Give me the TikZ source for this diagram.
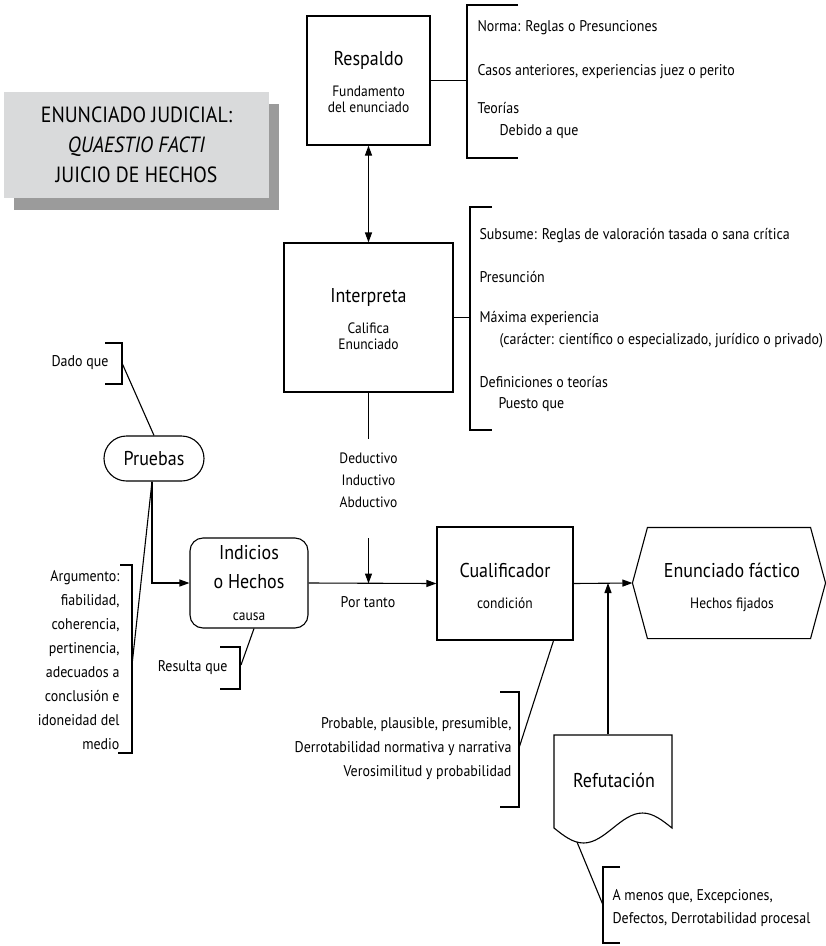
\documentclass[tikz,border=0pt]{standalone}
\usepackage{fontspec}
\setmainfont[FakeStretch=0.9]{PT Sans}
\usetikzlibrary{arrows.meta,shadows}
\definecolor{titlegray}{HTML}{D9DADB}
\definecolor{shadegray}{HTML}{9B9B9B}
\begin{document}
\begin{tikzpicture}[x=1pt,y=-1pt,
  line width=1.1pt,
  arr/.style={-{Triangle[length=10pt,width=7pt]}},
  darr/.style={{Triangle[length=10pt,width=7pt]}-{Triangle[length=10pt,width=7pt]}},
  box/.style={draw, rectangle, inner sep=0pt},
  big/.style={inner sep=0pt, font=\fontsize{20}{24}\selectfont},
  med/.style={inner sep=0pt, font=\fontsize{15}{16}\selectfont},
  sm/.style={inner sep=0pt, font=\fontsize{15.5}{17}\selectfont},
  note/.style={sm, anchor=west}
]
\useasboundingbox (0,0) rectangle (826,946);

% heading panel with its shadow
\node[fill=titlegray, minimum width=265pt, minimum height=106pt, inner sep=0pt,
      drop shadow={shadow xshift=10pt, shadow yshift=-12pt, fill=shadegray, opacity=1},
      align=center, font=\fontsize{22}{30}\selectfont] (title) at (136.5,145)
      {ENUNCIADO JUDICIAL:\\\textit{QUAESTIO FACTI}\\JUICIO DE HECHOS};

% Respaldo (backing)
\node[box, minimum width=123pt, minimum height=129pt] (resp) at (368.5,80.5) {};
\node[big] (respA) at (368.5,60) {Respaldo};
\node[med, align=center] (respB) at (368.5,99) {Fundamento\\del enunciado};

\coordinate (b1t) at (467,5);
\coordinate (b1b) at (467,158);
\draw (518,5) -- (b1t) -- (b1b) -- (518,158);
\draw (resp.east) -- (resp.east -| b1t);
\node[note] (n1) at (477,28) {Norma: Reglas o Presunciones};
\node[note] (n2) at (477,72) {Casos anteriores, experiencias juez o perito};
\node[note] (n3) at (477,108) {Teorías};
\node[note] (n4) at (499,132) {Debido a que};

% Interpreta
\node[box, minimum width=169pt, minimum height=149pt] (interp) at (368.5,317.5) {};
\node[big] (intA) at (368.5,297) {Interpreta};
\node[med, align=center] (intB) at (368.5,336) {Califica\\Enunciado};
\draw[darr] (resp.south) -- (interp.north);

\coordinate (b2t) at (470,207);
\coordinate (b2b) at (470,430);
\draw (492,207) -- (b2t) -- (b2b) -- (492,430);
\draw (interp.east) -- (interp.east -| b2t);
\node[note] (m1) at (479,236) {Subsume: Reglas de valoración tasada o sana crítica};
\node[note] (m2) at (479,277) {Presunción};
\node[note] (m3) at (479,318) {Máxima experiencia};
\node[note] (m4) at (499,341) {(carácter: científico o especializado, jurídico o privado)};
\node[note] (m5) at (479,382) {Definiciones o teorías};
\node[note] (m6) at (498,405) {Puesto que};

% reasoning modes
\coordinate (dtop) at (368.5,439);
\draw (interp.south) -- (dtop);
\node[med, align=center, font=\fontsize{15}{22}\selectfont] (modes) at (368.5,480)
      {Deductivo\\Inductivo\\Abductivo};

% Pruebas
\node[draw, rounded corners=22.5pt, minimum width=100pt, minimum height=45pt, big] (prue) at (154,458.5) {Pruebas};

\coordinate (dq) at (122,363);
\draw (105,343) -- (122,343) -- (122,384) -- (105,384);
\node[sm, anchor=east] (dadoq) at (109,363) {Dado que};
\draw (dq) -- (prue.north);

\coordinate (ab) at (132,665);
\draw (120,565) -- (132,565) -- (132,753) -- (118,753);
\node[sm, anchor=east, align=right, font=\fontsize{15.5}{24}\selectfont] (argum) at (120,660)
      {Argumento:\\fiabilidad,\\coherencia,\\pertinencia,\\adecuados a\\conclusión e\\idoneidad del\\medio};
\draw ([xshift=-2pt]prue.south) -- (ab);

% Indicios o Hechos
\node[draw, rounded corners=13pt, minimum width=118pt, minimum height=90pt] (indi) at (249,583) {};
\node[big, align=center, font=\fontsize{20}{29}\selectfont] (indA) at (249,567.5) {Indicios\\o Hechos};
\node[med] (indB) at (249,617) {causa};
\draw[arr] ([xshift=-2pt]prue.south) |- (indi.west);

\coordinate (rq) at (241,665);
\draw (220,647) -- (240,647) -- (240,689) -- (220,689);
\node[sm, anchor=east] (resq) at (228,668) {Resulta que};
\draw ([xshift=5pt]indi.south) -- (rq);

% Cualificador
\node[box, minimum width=136pt, minimum height=113pt] (cual) at (505,583.5) {};
\node[big] (cuaA) at (505,570) {Cualificador};
\node[med] (cuaB) at (505,603) {condición};
\draw[arr] (indi.east) -- (cual.west);
\node[sm] (portanto) at (368,602) {Por tanto};
\coordinate (dbot) at (368.5,538);
\draw[arr] (dbot) -- (dbot |- cual.west);

\coordinate (qb) at (519,748);
\draw (500,692) -- (519,692) -- (519,807) -- (500,807);
\node[sm, anchor=east, align=right, font=\fontsize{15.5}{24}\selectfont] (qual) at (512,749)
      {Probable, plausible, presumible,\\Derrotabilidad normativa y narrativa\\Verosimilitud y probabilidad};
\draw ([xshift=-20pt]cual.south east) -- (qb);

% Enunciado fáctico
\node[minimum width=192pt, minimum height=110pt, inner sep=0pt] (enun) at (729,583) {};
\draw (enun.west) -- ([xshift=15pt]enun.north west) -- ([xshift=-15pt]enun.north east)
      -- (enun.east) -- ([xshift=-15pt]enun.south east) -- ([xshift=15pt]enun.south west) -- cycle;
\node[big] (enA) at (732,570) {Enunciado fáctico};
\node[med] (enB) at (732,605) {Hechos fijados};
\draw[arr] (cual.east) -- (enun.west);

% Refutación (document shape)
\node[minimum width=118pt, minimum height=93pt, inner sep=0pt] (refu) at (613,781.5) {};
\draw (554,735) -- (672,735) -- (672,828) sin (642.5,813) cos (613,828) sin (583.5,843) cos (554,828) -- cycle;
\node[big] (refA) at (614,780) {Refutación};
\draw[arr] ([xshift=-5pt]refu.north) -- ([xshift=-5pt]refu.north |- enun.west);

\coordinate (rt) at (577,842);
\coordinate (eb) at (603,905);
\draw (620,867) -- (603,867) -- (603,943) -- (620,943);
\draw (rt) -- (eb);
\node[note] (e1) at (612,897) {A menos que, Excepciones,};
\node[note] (e2) at (612,920) {Defectos, Derrotabilidad procesal};
\end{tikzpicture}
\end{document}
